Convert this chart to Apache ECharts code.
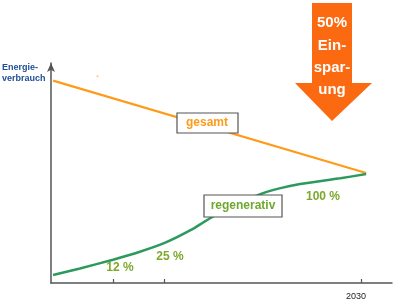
<!DOCTYPE html>
<html><head><meta charset="utf-8">
<script src="https://cdn.jsdelivr.net/npm/echarts@6/dist/echarts.min.js"></script>
<style>html,body{margin:0;padding:0;background:#fff}#c{width:397px;height:304px}</style>
</head><body><div id="c"></div>
<script>
// Data
const gesamtX = [2000.2, 2030.5];
const gesamtY = [92, 50];
const regenX = [2000.2, 2002.8, 2006, 2008.6, 2011, 2013.5, 2015.1, 2017.3, 2020.2, 2022.1, 2024.1, 2028, 2030.5];
const regenY = [3.6, 6.6, 10.6, 14.2, 18.2, 24.0, 28.6, 34.5, 40.3, 43.0, 45.0, 47.6, 49.5];
const tickYears = [2006, 2011, 2030];
const labelYears = [2030];

const chart = echarts.init(document.getElementById('c'));
const F = 'Liberation Sans, Arial, sans-serif';
const Z = 100;
chart.setOption({
  animation: false,
  grid: {left: 51, right: 5, top: 63, bottom: 21},
  xAxis: {
    type: 'value', min: 2000, max: 2033,
    splitLine: {show: false},
    axisLine: {lineStyle: {color: '#555', width: 1.5}},
    axisTick: {inside: true, length: 4, customValues: tickYears, lineStyle: {color: '#555', width: 1.2}},
    axisLabel: {customValues: labelYears, formatter: v => String(v), color: '#222', fontSize: 9, fontFamily: F, margin: 9, padding: [0, 10, 0, 0]}
  },
  yAxis: {
    type: 'value', min: 0, max: 100,
    splitLine: {show: false},
    axisTick: {show: false}, axisLabel: {show: false},
    axisLine: {show: true, symbol: ['none', 'arrow'], symbolSize: [6, 9], lineStyle: {color: '#555', width: 1.5}}
  },
  series: [
    {type: 'line', data: gesamtX.map((x, i) => [x, gesamtY[i]]), symbol: 'none',
     lineStyle: {color: '#ff9a1a', width: 2.2}},
    {type: 'line', data: regenX.map((x, i) => [x, regenY[i]]), symbol: 'none', smooth: 0.25,
     lineStyle: {color: '#2b9a5c', width: 2.5}},
    {type: 'scatter', data: [[2004.5, 94]], symbolSize: 2, itemStyle: {color: '#ffb070'}}
  ],
  graphic: [
    {type: 'text', z: Z, left: 2, top: 62, style: {text: 'Energie-\nverbrauch', fill: '#1f4e96', font: 'bold 9px ' + F, lineHeight: 11}},
    {type: 'polygon', z: Z, shape: {points: [[312, 3], [352, 3], [352, 83], [372, 83], [332, 121], [295, 83], [312, 83]]}, style: {fill: '#fb6a10'}},
    {type: 'text', z: Z, x: 332, y: 23, style: {text: '50%', fill: '#fff', font: 'bold 15px ' + F, align: 'center', verticalAlign: 'middle'}},
    {type: 'text', z: Z, x: 332, y: 46, style: {text: 'Ein-', fill: '#fff', font: 'bold 15px ' + F, align: 'center', verticalAlign: 'middle'}},
    {type: 'text', z: Z, x: 332, y: 68, style: {text: 'spar-', fill: '#fff', font: 'bold 15px ' + F, align: 'center', verticalAlign: 'middle'}},
    {type: 'text', z: Z, x: 332, y: 90, style: {text: 'ung', fill: '#fff', font: 'bold 15px ' + F, align: 'center', verticalAlign: 'middle'}},
    {type: 'rect', z: Z, shape: {x: 177, y: 113, width: 61, height: 20}, style: {fill: '#fff', stroke: '#555', lineWidth: 1.2}},
    {type: 'text', z: Z + 1, x: 207, y: 123, style: {text: 'gesamt', fill: '#ff9a1a', font: 'bold 12px ' + F, align: 'center', verticalAlign: 'middle'}},
    {type: 'rect', z: Z, shape: {x: 204, y: 195, width: 78, height: 22}, style: {fill: '#fff', stroke: '#555', lineWidth: 1.2}},
    {type: 'text', z: Z + 1, x: 243, y: 206, style: {text: 'regenerativ', fill: '#6fa830', font: 'bold 12px ' + F, align: 'center', verticalAlign: 'middle'}},
    {type: 'text', z: Z, x: 323, y: 197, style: {text: '100 %', fill: '#7da82a', font: 'bold 12px ' + F, align: 'center', verticalAlign: 'middle'}},
    {type: 'text', z: Z, x: 170, y: 257, style: {text: '25 %', fill: '#7da82a', font: 'bold 12px ' + F, align: 'center', verticalAlign: 'middle'}},
    {type: 'text', z: Z, x: 120, y: 268, style: {text: '12 %', fill: '#7da82a', font: 'bold 12px ' + F, align: 'center', verticalAlign: 'middle'}}
  ]
});
</script></body></html>
